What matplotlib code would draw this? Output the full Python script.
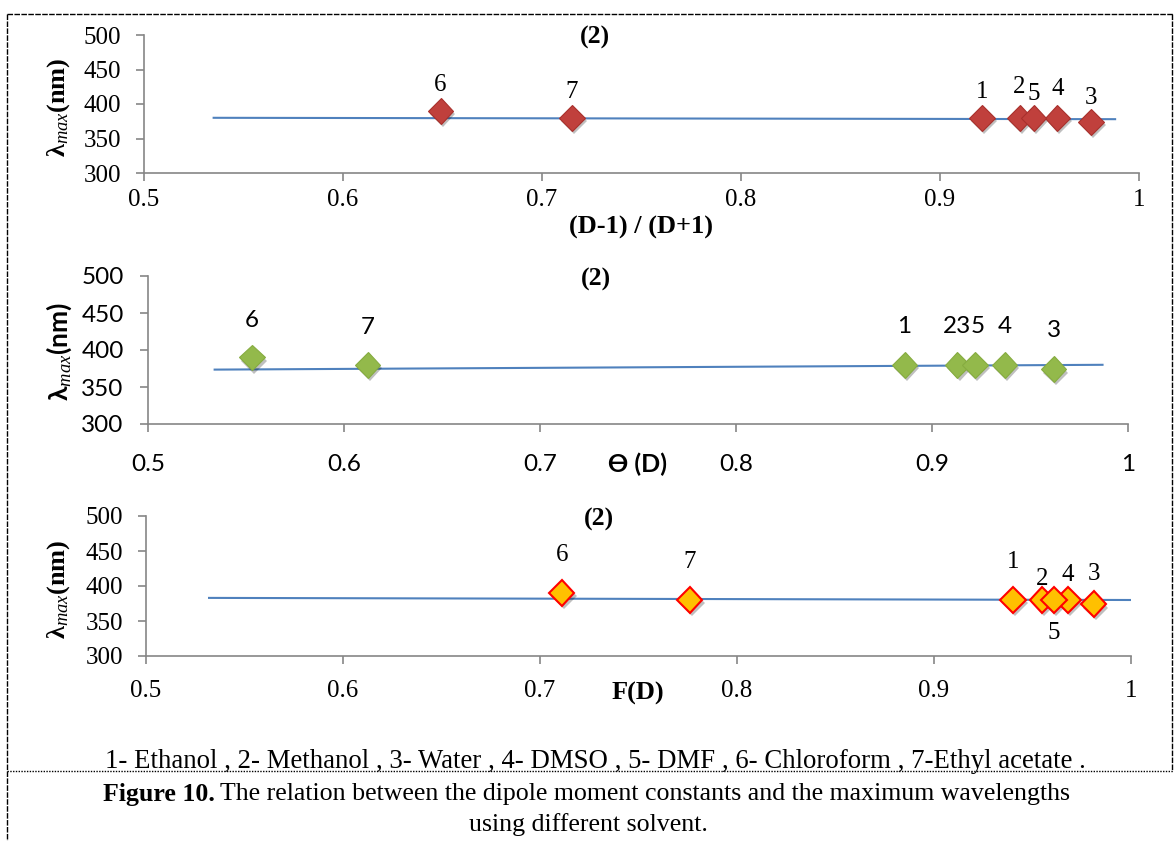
import matplotlib
matplotlib.use("Agg")
import matplotlib.pyplot as plt
import matplotlib.patheffects as pe
from matplotlib.lines import Line2D

plt.rcParams['mathtext.fontset'] = 'custom'
plt.rcParams['mathtext.rm'] = 'Liberation Serif'
plt.rcParams['mathtext.it'] = 'Liberation Serif:italic'
plt.rcParams['mathtext.bf'] = 'Liberation Serif:bold'

# ---- data (solvents 1..7) ----
solvent_ids = ["1", "2", "3", "4", "5", "6", "7"]
lambda_max = [380, 380, 374, 380, 380, 390, 380]

x_dd = [0.921, 0.940, 0.976, 0.959, 0.947, 0.649, 0.715]      # (D-1)/(D+1)
x_theta = [0.886, 0.913, 0.962, 0.937, 0.922, 0.553, 0.612]   # theta(D)
x_fd = [0.940, 0.955, 0.981, 0.968, 0.961, 0.711, 0.776]      # F(D)

trend_dd_x = [0.535, 0.988]
trend_dd_y = [380, 378]
trend_theta_x = [0.534, 0.987]
trend_theta_y = [373.5, 380]
trend_fd_x = [0.532, 1.0]
trend_fd_y = [383, 380]

labels_dd = ["1", "2", "3", "4", "5", "6", "7"]
labels_theta = ["1", "23", "3", "4", "5", "6", "7"]
labels_fd = ["1", "2", "3", "4", "5", "6", "7"]

xticks = [0.5, 0.6, 0.7, 0.8, 0.9, 1.0]
xticklabels = ["0.5", "0.6", "0.7", "0.8", "0.9", "1"]
yticks = [300, 350, 400, 450, 500]

SERIF = ['Liberation Serif', 'DejaVu Serif']
SANS = ['Lato', 'DejaVu Sans']
GRAY = '#868686'
TREND = '#4F81BD'

W, H = 1174, 841
fig = plt.figure(figsize=(W / 100, H / 100), dpi=100)


def px_axes(l, t, r, b):
    return fig.add_axes([l / W, 1 - b / H, (r - l) / W, (b - t) / H])


def style_axes(ax, family, tsize, xpad, ypad):
    for s in ['top', 'right']:
        ax.spines[s].set_visible(False)
    for s in ['left', 'bottom']:
        ax.spines[s].set_color(GRAY)
        ax.spines[s].set_linewidth(1.2)
    ax.set_xlim(0.5, 1.0)
    ax.set_ylim(300, 500)
    ax.set_xticks(xticks)
    ax.set_xticklabels(xticklabels)
    ax.set_yticks(yticks)
    ax.tick_params(axis='both', direction='out', length=5.5, width=1.2,
                   color=GRAY, labelsize=tsize)
    ax.tick_params(axis='x', pad=xpad)
    ax.tick_params(axis='y', pad=ypad)
    for lab in ax.get_xticklabels() + ax.get_yticklabels():
        lab.set_family(family)
    ax.patch.set_alpha(0)


def draw_points(ax, xs, ys, labels, face, edge, ew, offsets, family, lsize):
    ax.plot(xs, ys, linestyle='none', marker='D', markersize=13,
            markerfacecolor=face, markeredgecolor=edge, markeredgewidth=ew,
            zorder=3,
            path_effects=[pe.SimplePatchShadow(offset=(1.5, -2.5), shadow_rgbFace='black', alpha=0.25),
                          pe.Normal()])
    for x, y, t, (dx, dy) in zip(xs, ys, labels, offsets):
        ax.annotate(t, (x, y), xytext=(dx, dy), textcoords='offset pixels',
                    ha='center', va='center', fontsize=lsize, family=family,
                    zorder=4)


# ---- panel 1 ----
ax1 = px_axes(144, 35, 1139, 173)
style_axes(ax1, SERIF, 18, 6, 11)
ax1.plot(trend_dd_x, trend_dd_y, color=TREND, lw=1.5, zorder=2)
draw_points(ax1, x_dd, lambda_max, labels_dd, '#C0403C', '#A8302C', 0.8,
            [(0, 26), (0, 31), (0, 24), (0, 29), (0, 24), (0, 26), (0, 26)], SERIF, 18)
fig.text(595 / W, 1 - 37 / H, "(2)", ha='center', va='center', fontsize=18.5,
         fontweight='bold', family=SERIF)
fig.text(641 / W, 1 - 227 / H, "(D-1) / (D+1)", ha='center', va='center',
         fontsize=19, fontweight='bold', family=SERIF)
fig.text(59 / W, 1 - 107 / H, r"λ$_{max}$(nm)", ha='center', va='center',
         rotation=90, fontsize=19, fontweight='bold', family=SERIF)

# ---- panel 2 ----
ax2 = px_axes(148, 276, 1128, 424)
style_axes(ax2, SANS, 17.5, 16, 12)
ax2.plot(trend_theta_x, trend_theta_y, color=TREND, lw=1.5, zorder=2)
draw_points(ax2, x_theta, lambda_max, labels_theta, '#93B94B', '#86AC40', 0.8,
            [(0, 38), (0, 38), (0, 39), (0, 38), (3, 38), (0, 37), (0, 37)], SANS, 17.5)
fig.text(596 / W, 1 - 279 / H, "(2)", ha='center', va='center', fontsize=18.5,
         fontweight='bold', family=SERIF)
fig.text(637 / W, 1 - 464 / H, "ϴ (D)", ha='center', va='center',
         fontsize=18, fontweight='bold', family=SANS)
fig.text(59 / W, 1 - 352 / H, r"λ$_{max}$(nm)", ha='center', va='center',
         rotation=90, fontsize=19, fontweight='bold', family=SANS)

# ---- panel 3 ----
ax3 = px_axes(146, 516, 1131, 656)
style_axes(ax3, SERIF, 18, 12, 11)
ax3.plot(trend_fd_x, trend_fd_y, color=TREND, lw=1.5, zorder=2)
draw_points(ax3, x_fd, lambda_max, labels_fd, '#FFC000', '#FF0000', 1.5,
            [(0, 38), (0, 21), (0, 30), (0, 25), (0, -33), (0, 38), (0, 38)], SERIF, 18)
fig.text(599 / W, 1 - 519 / H, "(2)", ha='center', va='center', fontsize=18.5,
         fontweight='bold', family=SERIF)
fig.text(638 / W, 1 - 693 / H, "F(D)", ha='center', va='center',
         fontsize=19, fontweight='bold', family=SERIF)
fig.text(59 / W, 1 - 589 / H, r"λ$_{max}$(nm)", ha='center', va='center',
         rotation=90, fontsize=19, fontweight='bold', family=SERIF)

# ---- legend / caption text ----
fig.text(595 / W, 1 - 761 / H,
         "1- Ethanol , 2- Methanol , 3- Water , 4- DMSO , 5- DMF , 6- Chloroform , 7-Ethyl acetate .",
         ha='center', va='center', fontsize=19.3, family=SERIF)
cap_y = 1 - 794 / H
t1 = fig.text(103 / W, cap_y, "Figure 10.", ha='left', va='center',
              fontsize=18.6, fontweight='bold', family=SERIF)
fig.canvas.draw()
bb = t1.get_window_extent()
fig.text(bb.x1 / W + 5 / W, cap_y,
         "The relation between the dipole moment constants and the maximum wavelengths",
         ha='left', va='center', fontsize=18.6, family=SERIF)
fig.text(588 / W, 1 - 825 / H, "using different solvent.", ha='center',
         va='center', fontsize=18.6, family=SERIF)

# ---- dashed frame ----
frame = dict(color='black', lw=1.0, transform=fig.transFigure)
fig.add_artist(Line2D([7 / W, 1], [1 - 14 / H, 1 - 14 / H], linestyle=(0, (4, 1)), **frame))
fig.add_artist(Line2D([7 / W, 7 / W], [1 - 14 / H, 0], linestyle=(0, (4, 1)), **frame))
fig.add_artist(Line2D([1172 / W, 1172 / W], [1 - 14 / H, 1 - 771 / H], linestyle=(0, (4, 1)), **frame))
fig.add_artist(Line2D([7 / W, 1], [1 - 771 / H, 1 - 771 / H], linestyle=(0, (1, 1)), **frame))

fig.savefig("out.png", dpi=100)
